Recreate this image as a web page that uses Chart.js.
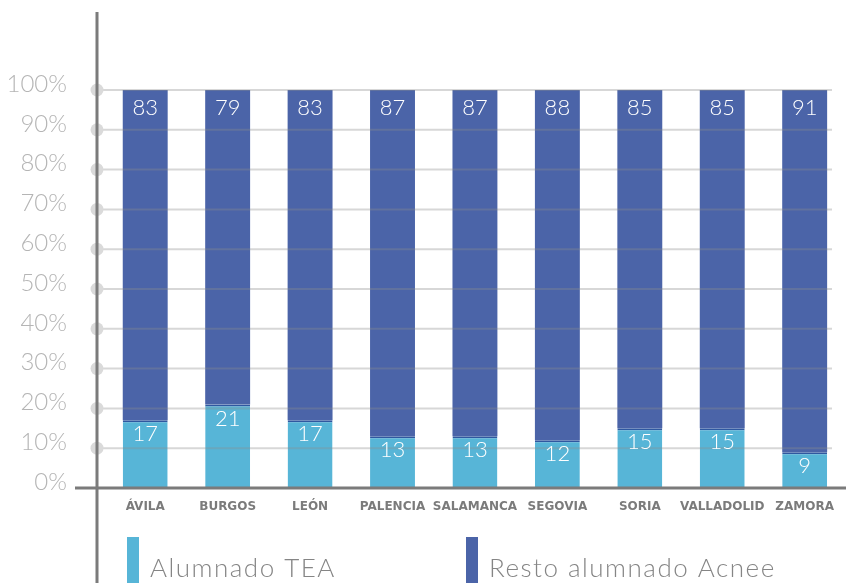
<!DOCTYPE html>
<html lang="es">
<head>
<meta charset="utf-8">
<title>Alumnado TEA por provincia</title>
<script src="https://cdn.jsdelivr.net/npm/chart.js@4/dist/chart.umd.min.js"></script>
<style>
  html, body { margin: 0; padding: 0; background: #fff; }
  canvas { display: block; }
</style>
</head>
<body>
<canvas id="provChart" width="846" height="583"></canvas>
<script>
const provincias = ['ÁVILA', 'BURGOS', 'LEÓN', 'PALENCIA', 'SALAMANCA', 'SEGOVIA', 'SORIA', 'VALLADOLID', 'ZAMORA'];
const alumnadoTea = [17, 21, 17, 13, 13, 12, 15, 15, 9];
const restoAcnee = [83, 79, 83, 87, 87, 88, 85, 85, 91];
const seriesNames = ['Alumnado TEA', 'Resto alumnado Acnee'];
const seriesColors = ['#57b5d7', '#4b64a8'];

const AXIS_GREY = '#7b7b7b';
const AXIS_X = 97;

/* gridlines over the bars, dots on the axis, and both axis lines */
const guides = {
    id: 'guides',
    afterDatasetsDraw(chart) {
        const ctx = chart.ctx;
        const y = chart.scales.y;
        const area = chart.chartArea;
        ctx.save();
        y.ticks.forEach(t => {
            if (t.value === 0) return;
            const py = y.getPixelForValue(t.value);
            ctx.strokeStyle = 'rgba(140,140,140,0.35)';
            ctx.lineWidth = 2;
            ctx.beginPath();
            ctx.moveTo(AXIS_X, py);
            ctx.lineTo(832, py);
            ctx.stroke();
            ctx.fillStyle = '#dadada';
            ctx.beginPath();
            ctx.arc(AXIS_X, py, 6.5, 0, Math.PI * 2);
            ctx.fill();
        });
        ctx.strokeStyle = AXIS_GREY;
        ctx.lineWidth = 3;
        ctx.beginPath();
        ctx.moveTo(AXIS_X, 12);
        ctx.lineTo(AXIS_X, chart.height);
        ctx.moveTo(75, area.bottom);
        ctx.lineTo(chart.width, area.bottom);
        ctx.stroke();
        ctx.restore();
    }
};

/* value inside the top of every segment */
const valueLabels = {
    id: 'valueLabels',
    afterDatasetsDraw(chart) {
        const ctx = chart.ctx;
        ctx.save();
        ctx.fillStyle = '#ffffff';
        ctx.font = '300 22px Lato';
        ctx.textAlign = 'center';
        ctx.textBaseline = 'middle';
        chart.data.datasets.forEach((ds, di) => {
            chart.getDatasetMeta(di).data.forEach((bar, i) => {
                ctx.fillText(String(ds.data[i]), bar.x, bar.y + (di === 0 ? 14 : 18));
            });
        });
        ctx.restore();
    }
};

/* legend: tall colour bars with the series names */
const legendBars = {
    id: 'legendBars',
    afterDraw(chart) {
        const ctx = chart.ctx;
        const starts = [127, 466];
        ctx.save();
        ctx.font = '300 26px Lato';
        ctx.letterSpacing = '1.5px';
        ctx.textBaseline = 'alphabetic';
        chart.data.datasets.forEach((ds, i) => {
            ctx.fillStyle = ds.backgroundColor;
            ctx.fillRect(starts[i], 537, 12, 50);
            ctx.fillStyle = '#858585';
            ctx.fillText(ds.label, starts[i] + 23, 577);
        });
        ctx.restore();
    }
};

new Chart(document.getElementById('provChart'), {
    type: 'bar',
    data: {
        labels: provincias,
        datasets: [{
            label: seriesNames[0],
            data: alumnadoTea,
            backgroundColor: seriesColors[0],
            borderColor: '#2f58a0',
            borderWidth: { top: 2, left: 0, right: 0, bottom: 0 },
            borderSkipped: false
        }, {
            label: seriesNames[1],
            data: restoAcnee,
            backgroundColor: seriesColors[1]
        }]
    },
    options: {
        responsive: false,
        animation: false,
        barPercentage: 0.545,
        categoryPercentage: 1,
        layout: { padding: { top: 90, right: 0, bottom: 0, left: 0 } },
        plugins: {
            legend: { display: false },
            tooltip: { enabled: false }
        },
        scales: {
            x: {
                stacked: true,
                grid: { display: false, drawTicks: false },
                border: { display: false },
                ticks: {
                    color: '#7b7b7b',
                    padding: 12,
                    maxRotation: 0,
                    autoSkip: false,
                    font: { family: 'DejaVu Sans', size: 12, weight: 'bold' }
                },
                afterFit(scale) { scale.height = 95; }
            },
            y: {
                stacked: true,
                min: 0,
                max: 100,
                grid: { display: false, drawTicks: false },
                border: { display: false },
                ticks: {
                    stepSize: 10,
                    color: '#b5b5b5',
                    padding: 37,
                    labelOffset: -6,
                    font: { family: 'Lato', size: 24, weight: '300' },
                    callback: v => v + '%'
                },
                afterFit(scale) { scale.width = 104; }
            }
        }
    },
    plugins: [guides, valueLabels, legendBars]
});
</script>
</body>
</html>
